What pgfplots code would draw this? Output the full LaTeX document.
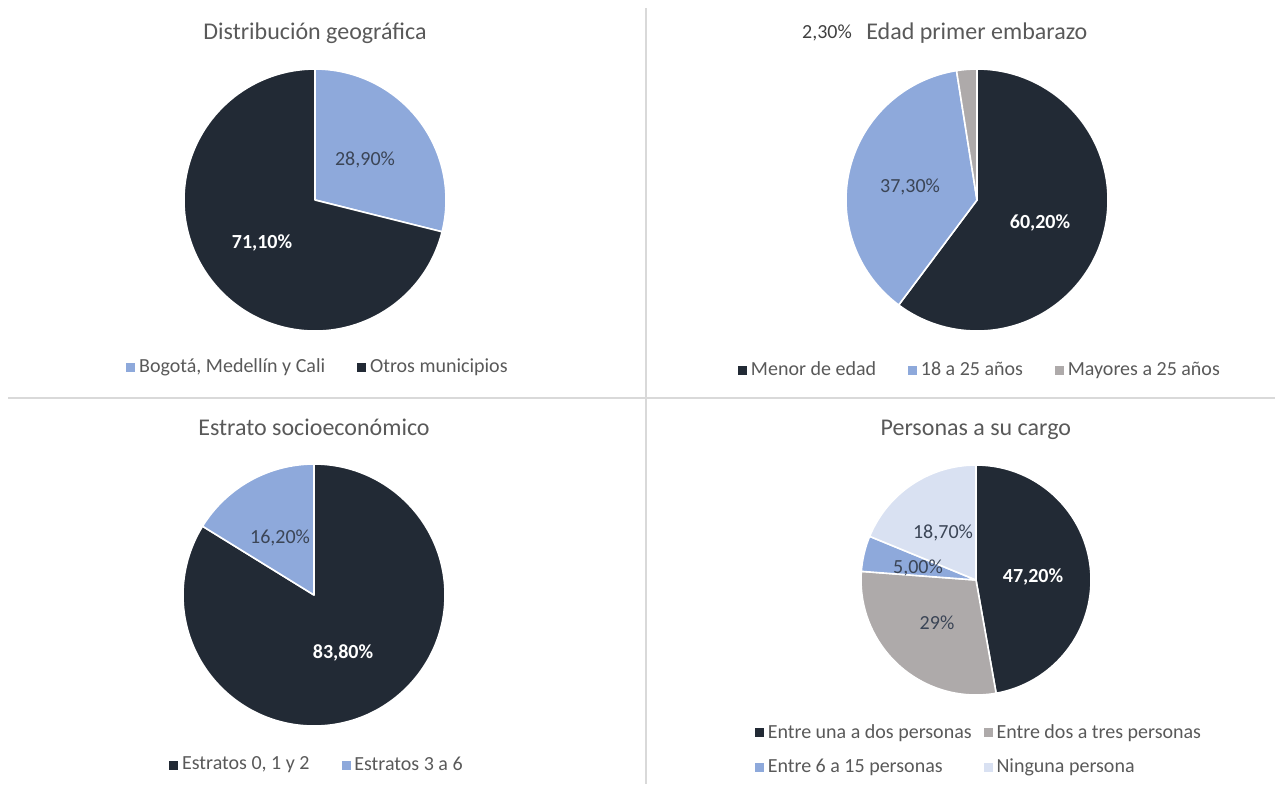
\documentclass[border=0pt]{standalone}
\usepackage{pgfplots}
\pgfplotsset{compat=1.18}
\usepackage{fontspec}
\setmainfont{Carlito}
\definecolor{cDark}{HTML}{222A35}
\definecolor{cBlue}{HTML}{8EA9DB}
\definecolor{cGray}{HTML}{AEAAAA}
\definecolor{cPale}{HTML}{D9E1F2}
\definecolor{cTitle}{HTML}{595959}
\definecolor{cLab}{HTML}{3B4556}
\definecolor{cRule}{HTML}{D9D9D9}
% slice: start %, end % (cumulative), colour, radius (axis units)
\newcommand{\slice}[4]{%
  \fill[#3, draw=white, line width=0.8pt, line join=round]
    (axis cs:0,0) -- (axis cs:{#4*cos(90-3.6*#1)},{#4*sin(90-3.6*#1)})
    arc[start angle={90-3.6*#1}, end angle={90-3.6*#2}, radius=#4] -- cycle;}
\tikzset{lab/.style={font=\fontsize{10}{12}\selectfont, text=cLab},
  labw/.style={font=\bfseries\fontsize{10}{12}\selectfont, text=white}}
\pgfplotsset{pie/.style={x=1cm, y=1cm, xmin=-4, xmax=4, ymin=-4, ymax=4,
  hide axis, clip=false, anchor=origin, every axis title shift=0pt,
  title style={font=\fontsize{12}{14}\selectfont, text=cTitle, anchor=center},
  legend image code/.code={\fill[##1] (0pt,-2pt) rectangle (4pt,2pt);},
  legend cell align=left,
  legend style={draw=none, fill=none, anchor=center,
    font=\fontsize{10}{12}\selectfont, text=cTitle, legend columns=-1,
    /tikz/every even column/.append style={column sep=14pt}}}}
\begin{document}
\begin{tikzpicture}
\path[use as bounding box] (0,0) rectangle (637.5pt,-392pt);
\draw[cRule, line width=0.7pt] (323pt,-4pt) -- (323pt,-392pt);
\draw[cRule, line width=0.7pt] (4pt,-199pt) -- (637.5pt,-199pt);

% Pie 1
\begin{axis}[pie, at={(157.5pt,-100pt)}, title={Distribución geográfica},
  title style={at={(0.5,0.8669)}}, legend style={at={(0.5088,0.1331)}}]
\addlegendimage{cBlue}\addlegendentry{Bogotá, Medellín y Cali}
\addlegendimage{cDark}\addlegendentry{Otros municipios}
\slice{0}{28.9}{cBlue}{2.302}
\slice{28.9}{100}{cDark}{2.302}
\node[lab] at (axis cs:0.879,0.703) {28,90\%};
\node[labw] at (axis cs:-0.931,-0.756) {71,10\%};
\end{axis}

% Pie 2
\begin{axis}[pie, at={(488.5pt,-100pt)}, title={Edad primer embarazo},
  title style={at={(0.4996,0.8669)}}, legend style={at={(0.5088,0.1266)}}]
\addlegendimage{cDark}\addlegendentry{Menor de edad}
\addlegendimage{cBlue}\addlegendentry{18 a 25 años}
\addlegendimage{cGray}\addlegendentry{Mayores a 25 años}
\slice{0}{60.2}{cDark}{2.302}
\slice{60.2}{97.5}{cBlue}{2.302}
\slice{97.5}{100}{cGray}{2.302}
\node[labw] at (axis cs:1.107,-0.404) {60,20\%};
\node[lab] at (axis cs:-1.177,0.228) {37,30\%};
\node[lab, text=black!75] at (axis cs:-2.636,2.935) {2,30\%};
\end{axis}

% Pie 3
\begin{axis}[pie, at={(157pt,-297.5pt)}, title={Estrato socioeconómico},
  title style={at={(0.5,0.869)}}, legend style={at={(0.5088,0.1266)}}]
\addlegendimage{cDark}\addlegendentry{Estratos 0, 1 y 2}
\addlegendimage{cBlue}\addlegendentry{Estratos 3 a 6}
\slice{0}{83.8}{cDark}{2.302}
\slice{83.8}{100}{cBlue}{2.302}
\node[labw] at (axis cs:0.510,-1.019) {83,80\%};
\node[lab] at (axis cs:-0.597,1.002) {16,20\%};
\end{axis}

% Pie 4
\begin{axis}[pie, at={(488pt,-290pt)}, title={Personas a su cargo},
  title style={at={(0.4996,0.8294)}},
  legend style={at={(0.5088,0.1266)}, legend columns=2, row sep=5pt,
    /tikz/every even column/.append style={column sep=4pt}}]
\addlegendimage{cDark}\addlegendentry{Entre una a dos personas}
\addlegendimage{cGray}\addlegendentry{Entre dos a tres personas}
\addlegendimage{cBlue}\addlegendentry{Entre 6 a 15 personas}
\addlegendimage{cPale}\addlegendentry{Ninguna persona}
\slice{0}{47.2}{cDark}{2.021}
\slice{47.2}{76.2}{cGray}{2.021}
\slice{76.2}{81.2}{cBlue}{2.021}
\slice{81.2}{100}{cPale}{2.021}
\node[labw] at (axis cs:1.002,0.053) {47,20\%};
\node[lab] at (axis cs:-0.685,-0.756) {29\%};
\node[lab] at (axis cs:-1.019,0.211) {5,00\%};
\node[lab] at (axis cs:-0.580,0.826) {18,70\%};
\end{axis}
\end{tikzpicture}
\end{document}
